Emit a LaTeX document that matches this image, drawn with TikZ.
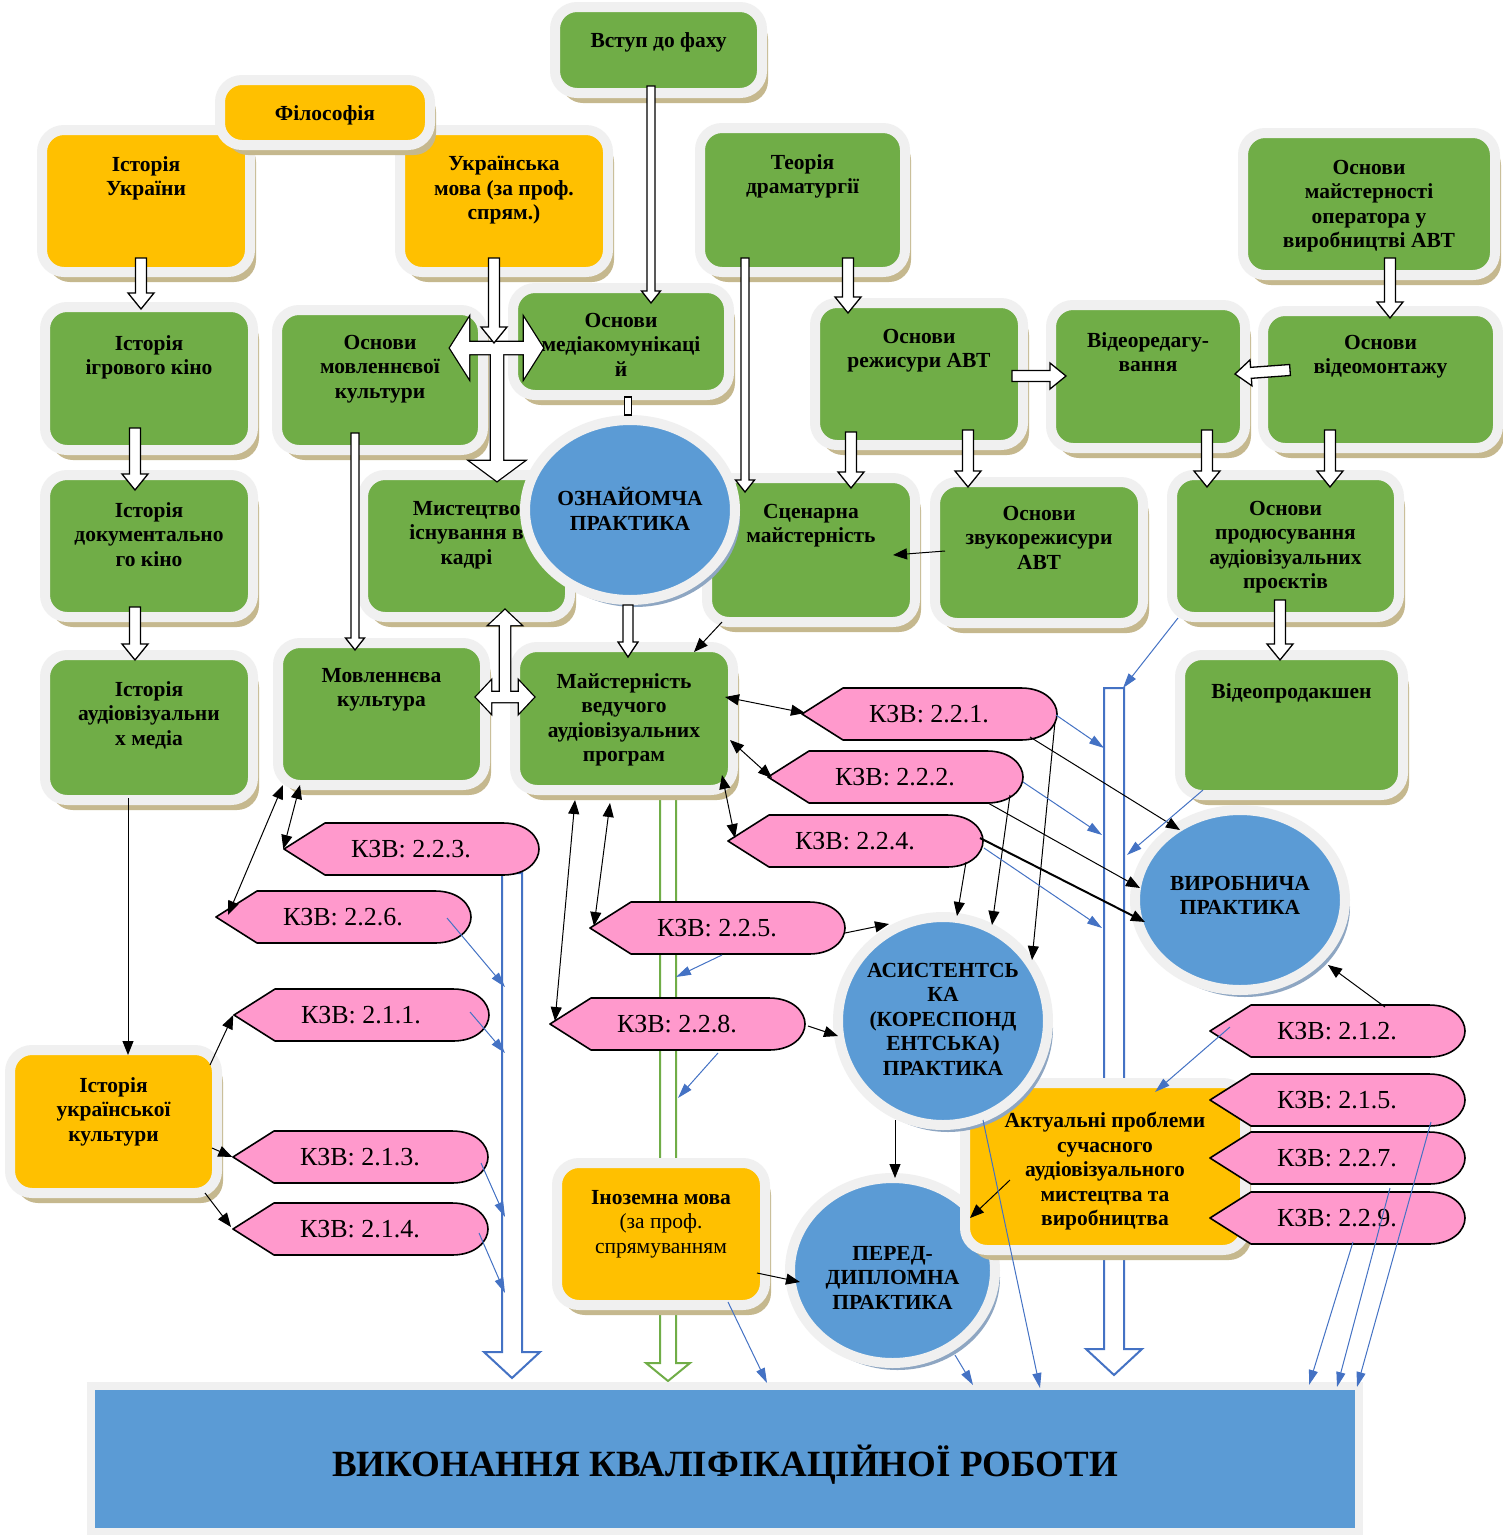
\documentclass[tikz,border=0pt]{standalone}
\usepackage{fontspec}
\setmainfont{Liberation Serif}
\usetikzlibrary{shapes.geometric,arrows.meta,calc,shadows}
\pgfdeclarelayer{bg}
\pgfsetlayers{bg,main}
\definecolor{cgreen}{HTML}{70AD47}
\definecolor{cyellow}{HTML}{FFC000}
\definecolor{cblue}{HTML}{5B9BD5}
\definecolor{cpink}{HTML}{FF99CC}
\definecolor{cgrey}{HTML}{F0F0F0}
\definecolor{ctan}{HTML}{C5B88E}
\definecolor{cshb}{HTML}{8EA6C2}
\definecolor{larrow}{HTML}{4472C4}
\tikzset{
 box/.style={rectangle, rounded corners=22pt, draw=cgrey, line width=10pt,
   drop shadow={shadow xshift=6pt,shadow yshift=-10pt,fill=ctan,opacity=1}},
 gbox/.style={box, fill=cgreen},
 ybox/.style={box, fill=cyellow},
 ell/.style={ellipse, fill=cblue, draw=cgrey, line width=10pt,
   drop shadow={shadow xshift=5pt,shadow yshift=-7pt,fill=cshb,opacity=1}},
 vykst/.style={rectangle, fill=cblue, draw=cgrey, line width=8pt},
 btxt/.style={font=\fontsize{21.5}{24.5}\selectfont\bfseries, align=center, inner sep=0pt,
   anchor=north, execute at begin node=\strut},
 kzvline/.style={fill=cpink, draw=black, line width=1.6pt, line join=round},
 kzvtxt/.style={font=\fontsize{26}{30}\selectfont, minimum width=255, minimum height=52, inner sep=0pt},
 barrow/.style n args={3}{to path={
   let \p1=(\tikztostart), \p2=(\tikztotarget),
       \n1={veclen(\x2-\x1,\y2-\y1)}, \n2={atan2(\y2-\y1,\x2-\x1)} in
   ([shift={(\p1)},rotate=\n2]0pt,#1)
   -- ([shift={(\p1)},rotate=\n2]\n1*1pt-#3,#1)
   -- ([shift={(\p1)},rotate=\n2]\n1*1pt-#3,#2)
   -- ([shift={(\p1)},rotate=\n2]\n1*1pt,0pt)
   -- ([shift={(\p1)},rotate=\n2]\n1*1pt-#3,-#2)
   -- ([shift={(\p1)},rotate=\n2]\n1*1pt-#3,-#1)
   -- ([shift={(\p1)},rotate=\n2]0pt,-#1) -- cycle}},
 dbarrow/.style n args={3}{to path={
   let \p1=(\tikztostart), \p2=(\tikztotarget),
       \n1={veclen(\x2-\x1,\y2-\y1)}, \n2={atan2(\y2-\y1,\x2-\x1)} in
   ([shift={(\p1)},rotate=\n2]0pt,0pt)
   -- ([shift={(\p1)},rotate=\n2]#3,#2)
   -- ([shift={(\p1)},rotate=\n2]#3,#1)
   -- ([shift={(\p1)},rotate=\n2]\n1*1pt-#3,#1)
   -- ([shift={(\p1)},rotate=\n2]\n1*1pt-#3,#2)
   -- ([shift={(\p1)},rotate=\n2]\n1*1pt,0pt)
   -- ([shift={(\p1)},rotate=\n2]\n1*1pt-#3,-#2)
   -- ([shift={(\p1)},rotate=\n2]\n1*1pt-#3,-#1)
   -- ([shift={(\p1)},rotate=\n2]#3,-#1)
   -- ([shift={(\p1)},rotate=\n2]#3,-#2) -- cycle}},
 blk/.style={draw=black, fill=white, line width=1.3pt, line join=miter, barrow={5.5pt}{13pt}{16pt}},
 blkthin/.style={draw=black, fill=white, line width=1.3pt, line join=miter, barrow={4pt}{9.5pt}{12pt}},
 blkout/.style={draw=black, line width=2.6pt, line join=miter},
 blkin/.style={fill=white},
 bigblue/.style={draw=larrow, line width=2pt, fill=white, line join=miter, barrow={10pt}{28pt}{26pt}},
 biggreen/.style={draw=cgreen, line width=2pt, fill=white, line join=miter, barrow={8pt}{22pt}{18pt}},
 conn/.style={draw=black, line width=1pt, -{Triangle[length=14pt,width=11pt]}},
 conn2/.style={draw=black, line width=1pt, {Triangle[length=14pt,width=11pt]}-{Triangle[length=14pt,width=11pt]}},
 bconn/.style={draw=larrow, line width=1pt, -{Triangle[length=15pt,width=9pt]}}
}
\newcommand\bx[8]{%
 \node[#2, minimum width=#5, minimum height=#6] (#1) at (#3,#4) {};
 \node[btxt] (#1t) at (#3,{#7-7}) {#8};}
\newcommand\kzv[4]{%
 \filldraw[kzvline] ({#2-127},#3) -- ({#2-86},{#3-26}) -- ({#2+92},{#3-26})
   .. controls ({#2+116},{#3-26}) and ({#2+128},{#3-12}) .. ({#2+128},#3)
   .. controls ({#2+128},{#3+12}) and ({#2+116},{#3+26}) .. ({#2+92},{#3+26})
   -- ({#2-86},{#3+26}) -- cycle;
 \node[kzvtxt] (#1) at (#2,#3) {КЗВ: #4};}
\begin{document}
\begin{tikzpicture}[x=1pt,y=-1pt]
\useasboundingbox (0,0) rectangle (1503,1535);
% boxes
\bx{istukr}{ybox}{146}{201}{208}{142}{163}{Історія\\України}
\bx{ukrmova}{ybox}{504}{201}{208}{142}{163}{Українська\\мова (за проф.\\спрям.)}
\bx{filo}{ybox}{325}{112.5}{210}{65}{110}{Філософія}
\bx{vstup}{gbox}{658.5}{50}{207}{86}{37}{Вступ до фаху}
\bx{teor}{gbox}{802.5}{200}{205}{144}{161}{Теорія\\драматургії}
\bx{oper}{gbox}{1369}{204}{252}{142}{167}{Основи\\майстерності\\оператора у\\виробництві АВТ}
\bx{igr}{gbox}{149}{378.5}{208}{143}{342}{Історія\\ігрового кіно}
\bx{osnmov}{gbox}{380}{380}{206}{140}{342}{Основи\\мовленнєвої\\культури}
\bx{medi}{gbox}{621}{341.5}{216}{107}{320}{Основи\\медіакомунікаці\\й}
\bx{rezh}{gbox}{919}{374}{208}{142}{336}{Основи\\режисури АВТ}
\bx{vidred}{gbox}{1148}{376.5}{194}{143}{339}{Відеоредагу-\\вання}
\bx{vidmon}{gbox}{1380.5}{379.5}{235}{137}{342}{Основи\\відеомонтажу}
\bx{doc}{gbox}{149}{546}{208}{142}{509}{Історія\\документально\\го кіно}
\bx{myst}{gbox}{466.5}{546}{207}{142}{508}{Мистецтво\\існування в\\кадрі}
\bx{scen}{gbox}{811}{550}{208}{144}{511}{Сценарна\\майстерність}
\bx{ozn}{ell}{630}{510}{210}{180}{494}{ОЗНАЙОМЧА\\ПРАКТИКА}
\bx{zvuk}{gbox}{1039}{552.5}{208}{141}{513}{Основи\\звукорежисури\\АВТ}
\bx{prod}{gbox}{1285.5}{546}{227}{142}{508}{Основи\\продюсування\\аудіовізуальних\\проєктів}
\bx{audmed}{gbox}{149}{727.5}{208}{145}{688}{Історія\\аудіовізуальни\\х медіа}
\bx{movk}{gbox}{381.5}{714}{207}{142}{675}{Мовленнєва\\культура}
\bx{mayst}{gbox}{624}{718.5}{218}{143}{680}{Майстерність\\ведучого\\аудіовізуальних\\програм}
\bx{vprod}{gbox}{1291.5}{725}{223}{140}{688}{Відеопродакшен}
\bx{istkult}{ybox}{113.5}{1121.5}{207}{143}{1084}{Історія\\української\\культури}
\bx{inoz}{ybox}{661}{1234}{208}{142}{1197}{Іноземна мова\\{\mdseries (за проф.}\\{\mdseries спрямуванням}}
\bx{pered}{ell}{892.5}{1270.5}{205}{185}{1253}{ПЕРЕД-\\ДИПЛОМНА\\ПРАКТИКА}
\bx{aktual}{ybox}{1105}{1166.5}{280}{167}{1119}{Актуальні проблеми\\сучасного\\аудіовізуального\\мистецтва та\\виробництва}
\bx{asis}{ell}{943}{1021}{210}{208}{970}{АСИСТЕНТСЬ\\КА\\(КОРЕСПОНД\\ЕНТСЬКА)\\ПРАКТИКА}
\bx{vyrob}{ell}{1240}{900}{210}{180}{883}{ВИРОБНИЧА\\ПРАКТИКА}
\node[vykst, minimum width=1268, minimum height=146] (vyk) at (725,1459) {};
\node[font=\fontsize{37}{40}\selectfont\bfseries] (vykt) at (725,1465) {ВИКОНАННЯ КВАЛІФІКАЦІЙНОЇ РОБОТИ};
% KZV shapes
\kzv{k221}{929}{714}{2.2.1.}
\kzv{k222}{895}{777}{2.2.2.}
\kzv{k224}{855}{841}{2.2.4.}
\kzv{k223}{411}{849}{2.2.3.}
\kzv{k226}{343}{917}{2.2.6.}
\kzv{k225}{717}{928}{2.2.5.}
\kzv{k211}{361}{1015}{2.1.1.}
\kzv{k228}{677}{1024}{2.2.8.}
\kzv{k212}{1337}{1031}{2.1.2.}
\kzv{k215}{1337}{1100}{2.1.5.}
\kzv{k213}{360}{1157}{2.1.3.}
\kzv{k227}{1337}{1158}{2.2.7.}
\kzv{k214}{360}{1229}{2.1.4.}
\kzv{k229}{1337}{1218}{2.2.9.}
% coordinates
\coordinate (rbtop) at (1114,688);
\coordinate (j1) at (497,348);
\coordinate (j2) at (505,697);
\coordinate (lb1) at (505,987);
\coordinate (lb2) at (505,1053);
\coordinate (lb3) at (505,1217);
\coordinate (lb4) at (505,1293);
\coordinate (gb1) at (676,977);
\coordinate (gb2) at (678,1098);
\coordinate (rb1) at (1104,748);
\coordinate (rb2) at (1102,835);
\coordinate (rb3) at (1102,928);
\coordinate (rb4) at (1123,688);
\coordinate (rb5) at (1127,855);
% background layer: white and hollow arrows
\begin{pgfonlayer}{bg}
\fill[white] (0,0) rectangle (1503,1535);
\draw[bigblue] ([shift={(101,24)}]k223.center) to ([shift={(-213,-81)}]vyk.center);
\draw[bigblue] (rbtop) to ([shift={(389,-84)}]vyk.center);
\draw[biggreen] ([shift={(44,76)}]mayst.center) to ([shift={(-57,-78)}]vyk.center);
\end{pgfonlayer}
% block arrows
\draw[blk] ([shift={(-5,57)}]istukr.center) to ([shift={(-8,-69.5)}]igr.center);
\draw[blk] ([shift={(-14,49.5)}]igr.center) to ([shift={(-14,-56)}]doc.center);
\draw[blk] ([shift={(-14,61)}]doc.center) to ([shift={(-14,-67.5)}]audmed.center);
\path[blkout, dbarrow={6pt}{30pt}{19pt}] ([shift={(70,-32)}]osnmov.center) to ([shift={(-78,6.5)}]medi.center);
\path[blkout, barrow={6pt}{27pt}{20pt}] (j1) to ([shift={(30.5,-65)}]myst.center);
\path[blkin, dbarrow={6pt}{30pt}{19pt}] ([shift={(70,-32)}]osnmov.center) to ([shift={(-78,6.5)}]medi.center);
\path[blkin, barrow={6pt}{27pt}{20pt}] (j1) to ([shift={(30.5,-65)}]myst.center);
\draw[blk] ([shift={(-10,57)}]ukrmova.center) to ([shift={(-3,-5)}]j1);
\path[blkout, dbarrow={5pt}{16pt}{15pt}] ([shift={(94.5,-17)}]movk.center) to ([shift={(-90,-21.5)}]mayst.center);
\path[blkout, barrow={5pt}{16pt}{15pt}] (j2) to ([shift={(38.5,64)}]myst.center);
\path[blkin, dbarrow={5pt}{16pt}{15pt}] ([shift={(94.5,-17)}]movk.center) to ([shift={(-90,-21.5)}]mayst.center);
\path[blkin, barrow={5pt}{16pt}{15pt}] (j2) to ([shift={(38.5,64)}]myst.center);
\draw[black, fill=white, line width=1.3pt] ([shift={(3.5,55.5)}]medi.center) rectangle ([shift={(1.5,0)}]ozn.north);
\draw[draw=black, fill=white, line width=1.3pt, barrow={5pt}{10pt}{15pt}] ([shift={(-2,0)}]ozn.south) to ([shift={(4,-61.5)}]mayst.center);
\draw[blkthin] ([shift={(-7.5,36)}]vstup.center) to ([shift={(30,-38.5)}]medi.center);
\draw[blkthin] ([shift={(-57.5,58)}]teor.center) to ([shift={(-66,-58)}]scen.center);
\draw[blk] ([shift={(45.5,58)}]teor.center) to ([shift={(-71,-61)}]rezh.center);
\draw[blk] ([shift={(-68,58)}]rezh.center) to ([shift={(40,-62)}]scen.center);
\draw[blk] ([shift={(49,56)}]rezh.center) to ([shift={(-71,-65.5)}]zvuk.center);
\draw[blk] ([shift={(93,2)}]rezh.center) to ([shift={(-82,-0.5)}]vidred.center);
\draw[blk] ([shift={(-90.5,-9.5)}]vidmon.center) to ([shift={(87,-2.5)}]vidred.center);
\draw[blk] ([shift={(21,54)}]oper.center) to ([shift={(9.5,-61.5)}]vidmon.center);
\draw[blk] ([shift={(59,53.5)}]vidred.center) to ([shift={(-78.5,-59)}]prod.center);
\draw[blk] ([shift={(-50.5,50.5)}]vidmon.center) to ([shift={(44.5,-59)}]prod.center);
\draw[blk] ([shift={(-5.5,54)}]prod.center) to ([shift={(-11.5,-65)}]vprod.center);
\draw[blkthin] ([shift={(-25,53)}]osnmov.center) to ([shift={(-26.5,-64)}]movk.center);
% thin black arrows
\draw[conn] ([shift={(-94,-1.5)}]zvuk.center) -- ([shift={(82,5)}]scen.center);
\draw[conn] ([shift={(-89,72)}]scen.center) -- ([shift={(70,-66.5)}]mayst.center);
\draw[conn] ([shift={(-21,70.5)}]audmed.center) -- ([shift={(14.5,-66.5)}]istkult.center);
\draw[conn] ([shift={(96.5,-56.5)}]istkult.center) -- (k211.west);
\draw[conn] ([shift={(98.5,26.5)}]istkult.center) -- (k213.west);
\draw[conn] ([shift={(91.5,71.5)}]istkult.center) -- ([shift={(-129,-2)}]k214.center);
\draw[conn2] ([shift={(-81.5,71)}]movk.center) -- (k223.west);
\draw[conn2] ([shift={(-98.5,71)}]movk.center) -- ([shift={(-115,-2)}]k226.center);
\draw[conn2] ([shift={(-49,81.5)}]mayst.center) -- ([shift={(-122,-3)}]k228.center);
\draw[conn2] ([shift={(-14,84.5)}]mayst.center) -- ([shift={(-123,-2)}]k225.center);
\draw[conn2] ([shift={(101,-21.5)}]mayst.center) -- ([shift={(-124,-1)}]k221.center);
\draw[conn2] ([shift={(106,21.5)}]mayst.center) -- ([shift={(-123,1)}]k222.center);
\draw[conn2] ([shift={(98,56.5)}]mayst.center) -- ([shift={(-120,-3)}]k224.center);
\draw[conn] ([shift={(128,5)}]k225.center) -- ([shift={(-54,-97)}]asis.center);
\draw[conn] ([shift={(131,2)}]k228.center) -- ([shift={(-105,15)}]asis.center);
\draw[conn] ([shift={(111,21)}]k224.center) -- ([shift={(14,-105)}]asis.center);
\draw[conn] ([shift={(115,18)}]k222.center) -- ([shift={(49,-96)}]asis.center);
\draw[conn] ([shift={(126,8)}]k221.center) -- ([shift={(89,-61)}]asis.center);
\draw[conn] ([shift={(101,23)}]k221.center) -- ([shift={(-60,-70)}]vyrob.center);
\draw[conn] ([shift={(93,26)}]k222.center) -- ([shift={(-100,-12)}]vyrob.center);
\draw[conn, line width=2pt] ([shift={(125,-3)}]k224.center) -- ([shift={(-95,22)}]vyrob.center);
\draw[conn] ([shift={(48,-24)}]k212.center) -- ([shift={(88,65)}]vyrob.center);
\draw[conn] ([shift={(-48,99)}]asis.center) -- ([shift={(2.5,-92.5)}]pered.center);
\draw[conn] ([shift={(96,39)}]inoz.center) -- ([shift={(-92.5,11.5)}]pered.center);
\draw[conn] ([shift={(-95,13.5)}]aktual.center) -- ([shift={(77.5,-52.5)}]pered.center);
% thin blue arrows
\draw[bconn] ([shift={(104,1)}]k226.center) -- (lb1);
\draw[bconn] ([shift={(109,-3)}]k211.center) -- (lb2);
\draw[bconn] ([shift={(121,6)}]k213.center) -- (lb3);
\draw[bconn] ([shift={(119,4)}]k214.center) -- (lb4);
\draw[bconn] ([shift={(5,27)}]k225.center) -- (gb1);
\draw[bconn] ([shift={(41,29)}]k228.center) -- (gb2);
\draw[bconn] ([shift={(127,1)}]k221.center) -- (rb1);
\draw[bconn] ([shift={(128,5)}]k222.center) -- (rb2);
\draw[bconn] ([shift={(129,7)}]k224.center) -- (rb3);
\draw[bconn] ([shift={(-107.5,72)}]prod.center) -- (rb4);
\draw[bconn] ([shift={(-88.5,65)}]vprod.center) -- (rb5);
\draw[bconn] ([shift={(-107,-4)}]k212.center) -- ([shift={(50,-74.5)}]aktual.center);
\draw[bconn] ([shift={(67,68)}]inoz.center) -- ([shift={(42,-76)}]vyk.center);
\draw[bconn] ([shift={(62.5,84.5)}]pered.center) -- ([shift={(248,-74)}]vyk.center);
\draw[bconn] ([shift={(40,99)}]asis.center) -- ([shift={(315,-71)}]vyk.center);
\draw[bconn] ([shift={(16,24)}]k229.center) -- ([shift={(584,-74)}]vyk.center);
\draw[bconn] ([shift={(53,30)}]k227.center) -- ([shift={(612,-72)}]vyk.center);
\draw[bconn] ([shift={(94,22)}]k215.center) -- ([shift={(632,-72)}]vyk.center);
\end{tikzpicture}
\end{document}
